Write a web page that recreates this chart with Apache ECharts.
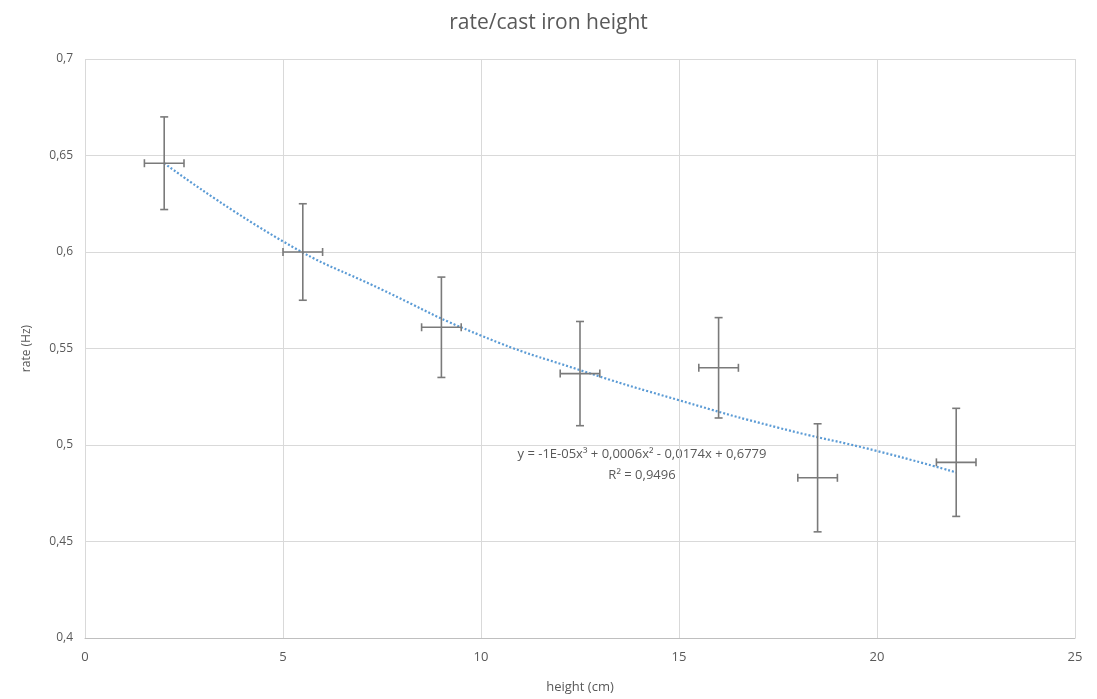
<!DOCTYPE html>
<html>
<head>
<meta charset="utf-8">
<script src="https://cdn.jsdelivr.net/npm/echarts@6/dist/echarts.min.js"></script>
<style>html,body{margin:0;padding:0;background:#fff}#c{width:1097px;height:699px}</style>
</head>
<body>
<div id="c"></div>
<script>
const heights = [2, 5.5, 9, 12.5, 16, 18.5, 22];
const rates = [0.646, 0.600, 0.561, 0.537, 0.540, 0.483, 0.491];
const rateErr = [0.024, 0.025, 0.026, 0.027, 0.026, 0.028, 0.028];
const heightErr = [0.5, 0.5, 0.5, 0.5, 0.5, 0.5, 0.5];
const trendX = [2, 5, 7.5, 10, 12.5, 15, 17.5, 20, 22];
const trendY = [0.646, 0.6055, 0.5805, 0.5567, 0.5388, 0.5232, 0.509, 0.4969, 0.4858];
const xTicks = [0, 5, 10, 15, 20, 25];
const yTicks = [0.4, 0.45, 0.5, 0.55, 0.6, 0.65, 0.7];
const titleText = 'rate/cast iron height';
const equationText = 'y = -1E-05x³ + 0,0006x² - 0,0174x + 0,6779';
const r2Text = 'R² = 0,9496';

const chart = echarts.init(document.getElementById('c'), null, {renderer: 'canvas'});
const fmt = v => String(+v.toFixed(2)).replace('.', ',');
const errData = heights.map((h, i) => [h, rates[i], heightErr[i], rateErr[i]]);
const trendData = trendX.map((x, i) => [x, trendY[i]]);
const col = '#7a7a7a';
const ff = 'Open Sans';

chart.setOption({
  animation: false,
  backgroundColor: '#fff',
  title: {
    text: titleText, left: 'center', top: 8,
    textStyle: {fontFamily: ff, fontSize: 21, fontWeight: 'normal', color: '#595959'}
  },
  grid: {left: 85, right: 22, top: 59, bottom: 60, containLabel: false},
  xAxis: {
    type: 'value', min: 0, max: 25, interval: 5,
    name: 'height (cm)', nameLocation: 'middle', nameGap: 43,
    nameTextStyle: {fontFamily: ff, fontSize: 13, color: '#595959'},
    axisLine: {show: true, lineStyle: {color: '#bfbfbf'}},
    axisTick: {show: false},
    axisLabel: {fontFamily: ff, fontSize: 13, color: '#595959', margin: 13, formatter: v => xTicks.includes(v) ? String(v) : ''},
    splitLine: {show: true, lineStyle: {color: '#d9d9d9'}}
  },
  yAxis: {
    type: 'value', min: 0.4, max: 0.7, interval: 0.05,
    name: 'rate (Hz)', nameLocation: 'middle', nameGap: 52, nameRotate: 90,
    nameTextStyle: {fontFamily: ff, fontSize: 12, color: '#595959'},
    axisLine: {show: false},
    axisTick: {show: false},
    axisLabel: {fontFamily: ff, fontSize: 12, color: '#595959', margin: 12, formatter: v => fmt(v)},
    splitLine: {show: true, lineStyle: {color: '#d9d9d9'}}
  },
  series: [
    {
      type: 'line', data: trendData, smooth: true, showSymbol: false, z: 2,
      lineStyle: {color: '#5b9bd5', width: 2.2, type: [2, 2]}
    },
    {
      type: 'custom', z: 3, data: errData,
      renderItem: function (params, api) {
        const x = api.value(0), y = api.value(1), dx = api.value(2), dy = api.value(3);
        const c = api.coord([x, y]);
        const top = api.coord([x, y + dy]), bot = api.coord([x, y - dy]);
        const lft = api.coord([x - dx, y]), rgt = api.coord([x + dx, y]);
        const st = {stroke: col, lineWidth: 1.6};
        const cw = 4, ch = 4;
        return {
          type: 'group',
          children: [
            {type: 'line', shape: {x1: c[0], y1: top[1], x2: c[0], y2: bot[1]}, style: st},
            {type: 'line', shape: {x1: c[0] - cw, y1: top[1], x2: c[0] + cw, y2: top[1]}, style: st},
            {type: 'line', shape: {x1: c[0] - cw, y1: bot[1], x2: c[0] + cw, y2: bot[1]}, style: st},
            {type: 'line', shape: {x1: lft[0], y1: c[1], x2: rgt[0], y2: c[1]}, style: st},
            {type: 'line', shape: {x1: lft[0], y1: c[1] - ch, x2: lft[0], y2: c[1] + ch}, style: st},
            {type: 'line', shape: {x1: rgt[0], y1: c[1] - ch, x2: rgt[0], y2: c[1] + ch}, style: st}
          ]
        };
      }
    }
  ],
  graphic: [
    {type: 'text', x: 642, y: 454, style: {text: equationText, align: 'center', verticalAlign: 'middle', fontFamily: ff, fontSize: 13, fill: '#595959'}},
    {type: 'text', x: 642, y: 475, style: {text: r2Text, align: 'center', verticalAlign: 'middle', fontFamily: ff, fontSize: 13, fill: '#595959'}}
  ]
});
</script>
</body>
</html>
